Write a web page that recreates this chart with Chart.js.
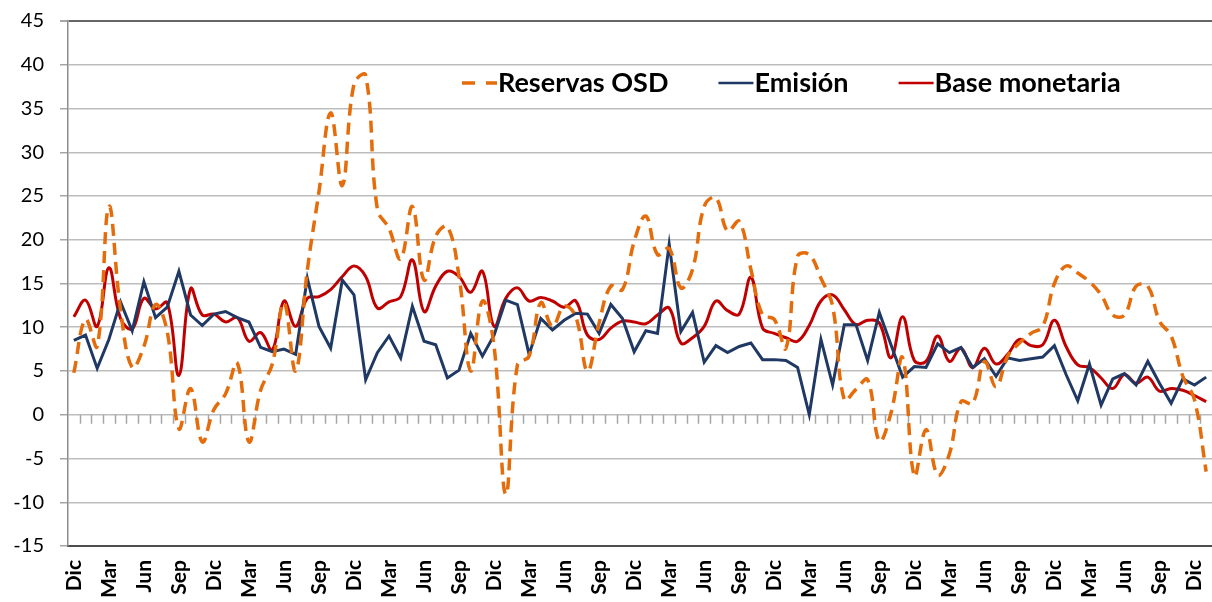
<!DOCTYPE html>
<html lang="es">
<head>
    <meta charset="UTF-8">
    <title>Reservas OSD, Emisión y Base monetaria</title>
    <script src="https://cdn.jsdelivr.net/npm/chart.js"></script>
    <style>
        body { margin: 0; background: #fff; }
        #wrap { width: 1212px; height: 602px; }
    </style>
</head>
<body>
    <div id="wrap"><canvas id="grafico" width="1212" height="602"></canvas></div>

    <script>
        // meses (la serie empieza en diciembre)
        const meses = ["Dic", "Ene", "Feb", "Mar", "Abr", "May", "Jun", "Jul", "Ago", "Sep", "Oct", "Nov"];
        const nPuntos = 98;

        const reservasOSD = [
            4.8, 10.9, 7.8, 23.8, 12.0, 5.4, 7.8, 12.6, 9.5, -1.6,
            3.0, -3.1, 0.6, 2.4, 5.9, -3.1, 2.8, 5.8, 12.8, 5.0,
            16.5, 25.5, 34.5, 26.2, 37.8, 38.8, 23.5, 21.3, 17.8, 23.8,
            15.4, 20.4, 21.5, 15.8, 5.0, 13.0, 7.8, -9.1, 5.7, 6.7,
            12.8, 10.1, 12.4, 11.2, 5.0, 10.5, 14.7, 14.3, 19.8, 22.7,
            18.3, 19.0, 14.5, 16.6, 23.8, 24.8, 21.0, 22.1, 16.6, 11.4,
            10.9, 7.6, 18.1, 18.3, 15.6, 12.4, 1.7, 2.9, 4.0, -3.0,
            0.2, 6.5, -7.0, -1.7, -6.9, -4.5, 1.5, 1.3, 6.1, 3.2,
            6.7, 8.2, 9.3, 10.1, 15.0, 17.0, 16.2, 15.2, 13.7, 11.4,
            11.4, 14.7, 14.7, 10.7, 9.0, 4.4, 1.7, -6.5
        ];

        const emision = [
            8.5, 9.1, 5.3, 8.6, 12.9, 9.6, 15.2, 11.1, 12.3, 16.4,
            11.4, 10.2, 11.5, 11.8, 11.1, 10.6, 7.7, 7.2, 7.5, 6.9,
            15.6, 10.1, 7.6, 15.4, 13.7, 4.0, 7.1, 9.0, 6.5, 12.4,
            8.4, 8.0, 4.2, 5.1, 9.3, 6.7, 9.1, 13.1, 12.6, 6.9,
            11.0, 9.7, 10.8, 11.6, 11.5, 9.3, 12.6, 11.0, 7.2, 9.6,
            9.3, 19.5, 9.5, 11.7, 6.0, 7.9, 7.1, 7.8, 8.2, 6.3,
            6.3, 6.2, 5.4, 0.0, 8.6, 3.4, 10.3, 10.3, 6.2, 11.7,
            8.0, 4.3, 5.5, 5.4, 8.1, 7.1, 7.7, 5.4, 6.4, 4.4,
            6.5, 6.2, 6.4, 6.6, 7.9, 4.6, 1.6, 5.8, 1.1, 4.1,
            4.7, 3.4, 6.1, 3.6, 1.3, 4.1, 3.4, 4.3
        ];

        const baseMonetaria = [
            11.2, 13.1, 10.1, 16.8, 11.0, 9.8, 13.3, 12.1, 12.8, 4.5,
            14.4, 11.4, 11.5, 10.6, 11.1, 8.4, 9.4, 7.4, 13.0, 10.1,
            13.3, 13.5, 14.3, 15.8, 17.0, 15.8, 12.2, 12.9, 13.5, 17.7,
            11.8, 14.7, 16.4, 15.8, 14.0, 16.4, 10.1, 13.3, 14.5, 13.0,
            13.4, 13.0, 12.3, 13.0, 9.1, 8.6, 9.9, 10.7, 10.6, 10.4,
            11.4, 12.2, 8.2, 8.8, 10.1, 13.0, 11.9, 11.5, 15.7, 9.9,
            9.3, 8.8, 8.4, 10.2, 13.0, 13.7, 12.0, 10.3, 10.8, 10.5,
            6.5, 11.2, 6.2, 6.1, 9.0, 6.1, 7.6, 5.4, 7.6, 5.8,
            6.9, 8.6, 7.9, 8.0, 10.8, 7.8, 5.7, 5.4, 4.2, 3.0,
            4.6, 3.6, 4.3, 2.7, 3.0, 2.8, 2.2, 1.5
        ];

        const yMin = -15, yMax = 45, yPaso = 5;

        let etiquetas = [];
        for (let i = 0; i < nPuntos; i++) etiquetas.push(meses[i % 12]);

        // marcas mensuales sobre la línea de cero y leyenda dentro del gráfico
        const extras = {
            id: "extras",
            beforeDatasetsDraw(chart) {
                const c = chart.ctx, xs = chart.scales.x, ys = chart.scales.y;
                const paso = xs.getPixelForValue(1) - xs.getPixelForValue(0);
                const y0 = ys.getPixelForValue(0);
                c.save();
                c.strokeStyle = "#a6a6a6";
                c.lineWidth = 1.5;
                c.beginPath();
                for (let i = 1; i < nPuntos; i++) {
                    const x = Math.round(xs.getPixelForValue(i) - paso / 2) + 0.5;
                    c.moveTo(x, y0);
                    c.lineTo(x, y0 + 9);
                }
                c.stroke();
                c.restore();
            },
            afterDraw(chart) {
                const c = chart.ctx, area = chart.chartArea;
                let x = area.left + 394;
                const y = area.top + 62;
                c.save();
                c.font = "bold 27px Lato";
                c.textBaseline = "middle";
                chart.data.datasets.forEach(ds => {
                    c.strokeStyle = ds.borderColor;
                    c.lineWidth = ds.borderDash ? 3.5 : 2.5;
                    c.setLineDash(ds.borderDash ? [13, 11] : []);
                    c.beginPath();
                    c.moveTo(x, y);
                    c.lineTo(x + 35, y);
                    c.stroke();
                    c.setLineDash([]);
                    c.fillStyle = "#000";
                    c.fillText(ds.label, x + 36, y);
                    x += 36 + c.measureText(ds.label).width + 50;
                });
                c.restore();
            }
        };

        const ctx = document.getElementById("grafico").getContext("2d");
        new Chart(ctx, {
            type: "line",
            data: {
                labels: etiquetas,
                datasets: [
                    {
                        label: "Reservas OSD",
                        data: reservasOSD,
                        borderColor: "#E46C0A",
                        borderWidth: 3.5,
                        borderDash: [12, 7],
                        tension: 0.4,
                        pointRadius: 0,
                        fill: false
                    },
                    {
                        label: "Emisión",
                        data: emision,
                        borderColor: "#1F3864",
                        borderWidth: 3,
                        tension: 0,
                        pointRadius: 0,
                        fill: false
                    },
                    {
                        label: "Base monetaria",
                        data: baseMonetaria,
                        borderColor: "#C00000",
                        borderWidth: 3,
                        tension: 0.4,
                        pointRadius: 0,
                        fill: false
                    }
                ]
            },
            options: {
                responsive: false,
                animation: false,
                layout: { padding: { top: 21, right: 0, left: 0, bottom: 0 } },
                plugins: {
                    legend: { display: false },
                    tooltip: { enabled: false }
                },
                scales: {
                    x: {
                        offset: true,
                        grid: { display: false },
                        border: { display: true, color: "#4d4d4d", width: 2 },
                        ticks: {
                            autoSkip: false,
                            minRotation: 90,
                            maxRotation: 90,
                            padding: 6,
                            color: "#000",
                            font: { family: "Lato", size: 21, weight: "bold" },
                            callback: function (valor, indice) {
                                return indice % 3 === 0 ? this.getLabelForValue(valor) : "";
                            }
                        },
                        afterFit: s => {
                            s.height = 56;
                            s.paddingLeft = 0;
                            s.paddingRight = 0;
                        }
                    },
                    y: {
                        min: yMin,
                        max: yMax,
                        ticks: {
                            stepSize: yPaso,
                            padding: 16,
                            color: "#000",
                            font: { family: "Lato", size: 20 }
                        },
                        grid: {
                            color: c => c.tick && c.tick.value === yMax ? "#666" : "#bdbdbd",
                            lineWidth: c => c.tick && c.tick.value === yMax ? 2 : 1.5,
                            tickLength: 8,
                            tickColor: "#a6a6a6"
                        },
                        border: { display: true, color: "#8c8c8c", width: 1.5 },
                        afterFit: s => {
                            s.width = 68;
                            s.paddingTop = 0;
                            s.paddingBottom = 0;
                        }
                    }
                }
            },
            plugins: [extras]
        });
    </script>
</body>
</html>
